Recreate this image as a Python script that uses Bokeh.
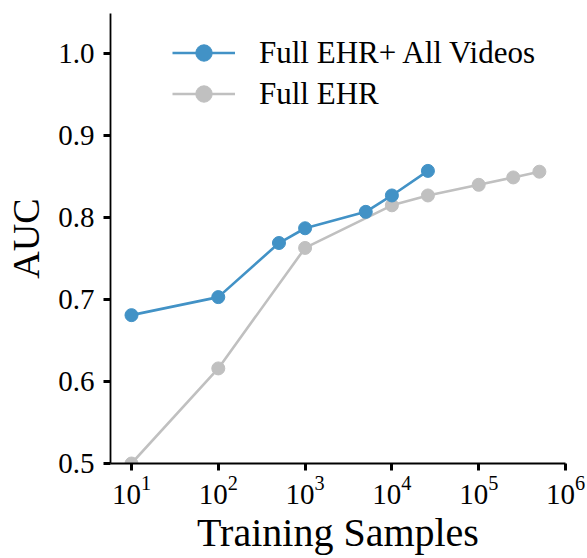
from bokeh.plotting import figure
from bokeh.models import Range1d, FixedTicker, Legend, LegendItem, NumeralTickFormatter
from bokeh.embed import file_html
from bokeh.resources import INLINE

# data
x_video = [10, 100, 500, 1000, 5000, 10000, 26000]
auc_video = [0.681, 0.703, 0.769, 0.787, 0.807, 0.827, 0.857]
x_ehr = [10, 100, 1000, 10000, 26000, 100000, 250000, 500000]
auc_ehr = [0.500, 0.616, 0.763, 0.815, 0.827, 0.840, 0.849, 0.856]
x_ticks = [10, 100, 1000, 10000, 100000, 1000000]
y_ticks = [0.5, 0.6, 0.7, 0.8, 0.9, 1.0]
labels = ["Full EHR+ All Videos", "Full EHR"]

BLUE = "#4292c6"
GREY = "#c0c0c0"
FONT = "Liberation Serif"

p = figure(width=587, height=558, x_axis_type="log",
           x_range=Range1d(5.73, 1e6), y_range=Range1d(0.5, 1.049),
           output_backend="svg", toolbar_location=None,
           min_border_left=110, min_border_right=22,
           min_border_top=13, min_border_bottom=95)

p.outline_line_color = None
p.grid.visible = False

l1 = p.line(x_video, auc_video, line_color=BLUE, line_width=2.6)
s1 = p.scatter(x_video, auc_video, size=13, fill_color=BLUE, line_color=BLUE)
l2 = p.line(x_ehr, auc_ehr, line_color=GREY, line_width=2.6)
s2 = p.scatter(x_ehr, auc_ehr, size=13, fill_color=GREY, line_color=GREY)
p.renderers = [l2, s2, l1, s1]

for ax in (p.xaxis[0], p.yaxis[0]):
    ax.axis_line_width = 1.8
    ax.axis_line_color = "black"
    ax.major_tick_line_width = 3
    ax.major_tick_line_color = "black"
    ax.major_tick_in = 0
    ax.major_tick_out = 7
    ax.minor_tick_line_color = None
    ax.major_label_text_font = FONT
    ax.major_label_text_font_size = "29px"
    ax.major_label_text_color = "black"
    ax.axis_label_text_font = FONT
    ax.axis_label_text_font_style = "normal"
    ax.axis_label_text_color = "black"

p.xaxis.ticker = FixedTicker(ticks=x_ticks)
p.yaxis.ticker = FixedTicker(ticks=y_ticks)
p.yaxis.formatter = NumeralTickFormatter(format="0.0")
p.xaxis.axis_label = "Training Samples"
p.yaxis.axis_label = "AUC"
p.xaxis.axis_label_text_font_size = "40px"
p.yaxis.axis_label_text_font_size = "38px"
p.xaxis.major_label_standoff = 5
p.yaxis.major_label_standoff = 9
p.xaxis.axis_label_standoff = 3
p.yaxis.axis_label_standoff = 8

legend = Legend(items=[LegendItem(label=labels[0], renderers=[l1, s1]),
                       LegendItem(label=labels[1], renderers=[l2, s2])],
                location=(62, 349), padding=0, margin=0, spacing=0,
                glyph_width=63, glyph_height=41, label_height=41,
                label_standoff=24, border_line_color=None,
                background_fill_alpha=0,
                label_text_font=FONT, label_text_font_size="31px",
                label_text_color="black")
p.add_layout(legend)

open("out.html", "w").write(file_html(p, INLINE))
